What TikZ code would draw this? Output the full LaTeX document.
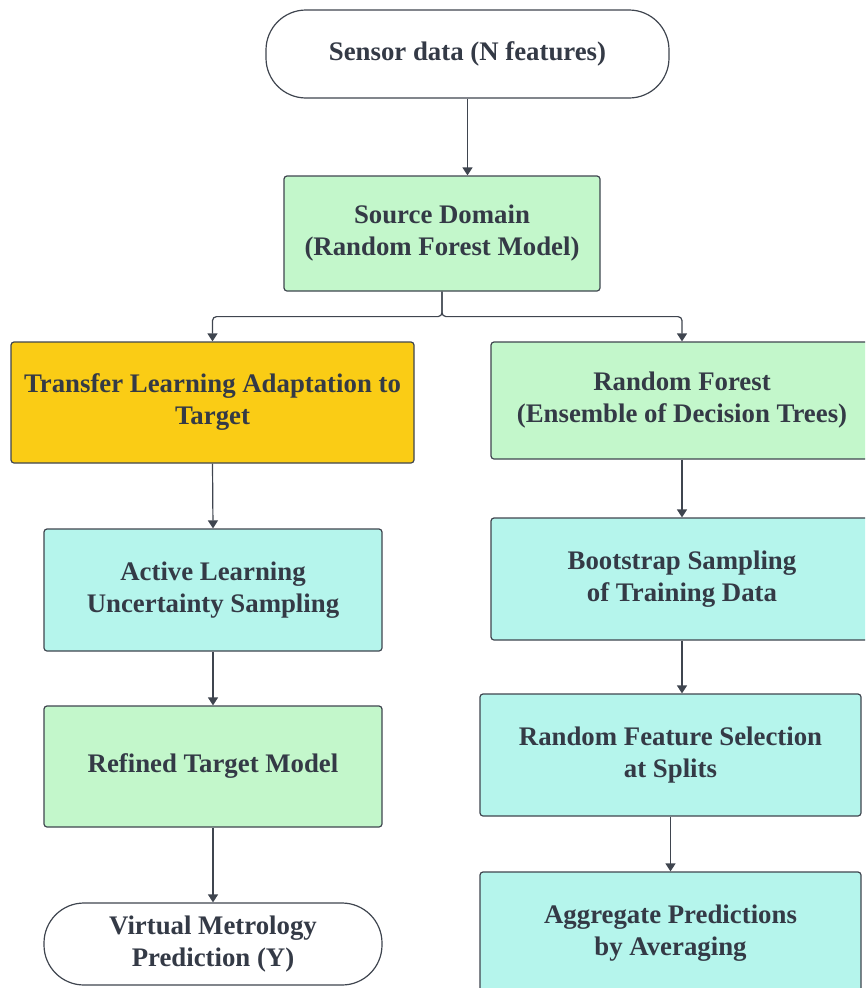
\documentclass[tikz,border=0pt]{standalone}
\usepackage{fontspec}
\setmainfont{Liberation Serif}
\usetikzlibrary{arrows.meta}
\definecolor{edgec}{HTML}{3F454F}
\definecolor{textc}{HTML}{343A46}
\definecolor{greenc}{HTML}{C3F7CB}
\definecolor{cyanc}{HTML}{B5F5EC}
\definecolor{yellowc}{HTML}{FACC15}
\tikzset{
  box/.style={draw=edgec, line width=1.2pt, rounded corners=3pt, inner sep=0pt,
    align=center, text=textc, font=\fontsize{26.8}{32}\selectfont\bfseries},
  pill/.style={box, rounded corners=40pt, fill=white},
  arr/.style={draw=edgec, line width=1.2pt, -{Triangle[length=8pt,width=10pt]}},
}
\begin{document}
\begin{tikzpicture}[x=1pt,y=-1pt]
\useasboundingbox (0,0) rectangle (865,988);
\clip (0,0) rectangle (865,988);
\node[pill, minimum width=403pt, minimum height=88pt] (sensor) at (467.5,54) {Sensor data (N features)};
\node[box, fill=greenc, minimum width=316pt, minimum height=115pt] (src) at (442,233.5) {Source Domain\\(Random Forest Model)};
\node[box, fill=yellowc, minimum width=403pt, minimum height=121pt] (tr) at (212.5,402.5) {Transfer Learning Adaptation to\\Target};
\node[box, fill=cyanc, minimum width=338pt, minimum height=122pt] (al) at (213,590) {Active Learning\\Uncertainty Sampling};
\node[box, fill=greenc, minimum width=338pt, minimum height=121pt] (ref) at (213,766.5) {Refined Target Model};
\node[pill, minimum width=338pt, minimum height=82pt] (vm) at (213,944) {Virtual Metrology\\Prediction (Y)};
\node[box, fill=greenc, minimum width=382pt, minimum height=117pt] (rf) at (682,400.5) {Random Forest\\(Ensemble of Decision Trees)};
\node[box, fill=cyanc, minimum width=382pt, minimum height=122pt] (bs) at (682,579) {Bootstrap Sampling\\of Training Data};
\node[box, fill=cyanc, minimum width=381pt, minimum height=122pt] (rfs) at (670.5,755) {Random Feature Selection\\at Splits};
\node[box, fill=cyanc, minimum width=381pt, minimum height=122pt] (agg) at (670.5,933) {Aggregate Predictions\\by Averaging};
\draw[arr] (sensor.south) -- (src.north -| sensor.south);
\draw[arr, rounded corners=4pt] (src.south) -- ++(0,25) -| (tr.north);
\draw[arr, rounded corners=4pt] (src.south) -- ++(0,25) -| (rf.north);
\draw[arr] (tr.south) -- (al.north);
\draw[arr] (al.south) -- (ref.north);
\draw[arr] (ref.south) -- (vm.north);
\draw[arr] (rf.south) -- (bs.north);
\draw[arr] (bs.south) -- (bs.south |- rfs.north);
\draw[arr] (rfs.south) -- (agg.north);
\end{tikzpicture}
\end{document}
